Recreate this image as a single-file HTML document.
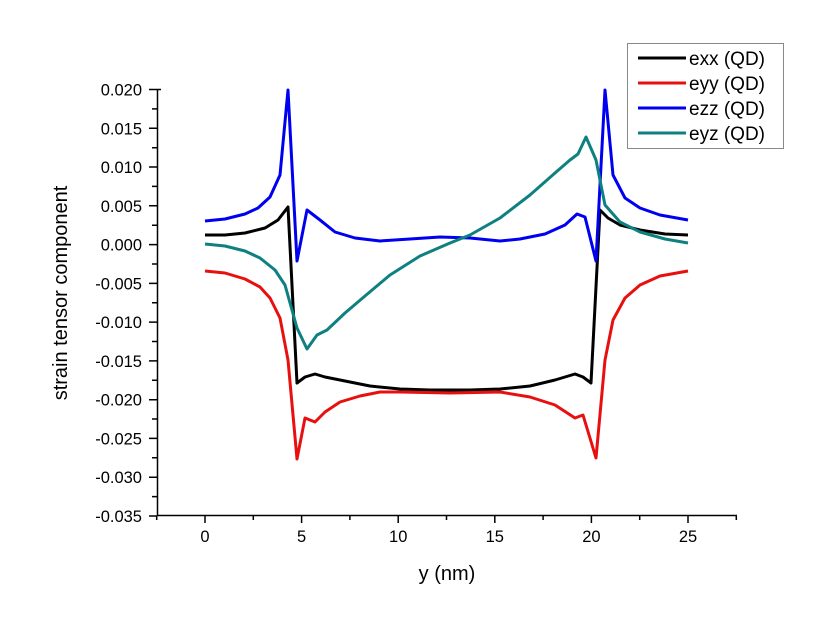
<!DOCTYPE html>
<html><head><style>body{margin:0;background:#fff}svg{display:block}text{font-family:"Liberation Sans",Arial,sans-serif;fill:#000}</style></head>
<body>
<svg width="827" height="626" viewBox="0 0 827 626" xmlns="http://www.w3.org/2000/svg">
<rect width="827" height="626" fill="#fff"/>
<g stroke="#000" stroke-width="1.5" fill="none">
<line x1="157.5" y1="89" x2="157.5" y2="516"/>
<line x1="157" y1="515.5" x2="737" y2="515.5"/>
<path d="M149 89.5H161M149 128.3H157M149 167H157M149 205.8H157M149 244.6H157M149 283.4H157M149 322.1H157M149 360.9H157M149 399.7H157M149 438.4H157M149 477.2H157M149 516H157"/>
<path d="M152 108.9H157M152 147.7H157M152 186.4H157M152 225.2H157M152 264H157M152 302.7H157M152 341.5H157M152 380.3H157M152 419H157M152 457.8H157M152 496.6H157"/>
<path d="M205 516V523M301.6 516V523M398.2 516V523M494.8 516V523M591.4 516V523M688 516V523"/>
<path d="M156.7 516V520M253.3 516V520M349.9 516V520M446.5 516V520M543.1 516V520M639.7 516V520M736.3 516V520"/>
</g>
<g font-size="16.5" text-anchor="end">
<text x="142" y="95.5">0.020</text><text x="142" y="134.3">0.015</text><text x="142" y="173">0.010</text><text x="142" y="211.8">0.005</text><text x="142" y="250.6">0.000</text><text x="142" y="289.4">-0.005</text><text x="142" y="328.1">-0.010</text><text x="142" y="366.9">-0.015</text><text x="142" y="405.7">-0.020</text><text x="142" y="444.4">-0.025</text><text x="142" y="483.2">-0.030</text><text x="142" y="522">-0.035</text>
</g>
<g font-size="16.5" text-anchor="middle">
<text x="205" y="542">0</text><text x="301.6" y="542">5</text><text x="398.2" y="542">10</text><text x="494.8" y="542">15</text><text x="591.4" y="542">20</text><text x="688" y="542">25</text>
</g>
<text x="447" y="580" font-size="20" text-anchor="middle">y (nm)</text>
<text transform="translate(67,293) rotate(-90)" font-size="20" text-anchor="middle">strain tensor component</text>
<g fill="none" stroke-width="3" stroke-linejoin="round">
<polyline stroke="#000" points="205,235 225,235 245,233 265,228 278,220 288,207 297,383 305,377 315,374 325,377 345,381 370,386 400,389 430,390 470,390 500,389 530,386 555,380 575,374 583,377 591,383 600,210 608,218 620,225 640,230 665,234 688,235"/>
<polyline stroke="#e8100f" points="205,271 225,273 245,279 260,287 270,298 280,318 288,360 297,459 305,418 315,422 325,412 340,402 360,396 380,392 400,392 450,393 500,392 530,397 555,405 575,418 583,415 596,458 605,360 613,320 625,298 640,285 660,276 688,271"/>
<polyline stroke="#0000f0" points="205,221 225,219 245,214 258,208 270,197 280,175 288,90 297,261 307,210 320,220 335,232 355,238 380,241 410,239 440,237 470,238 500,241 520,239 545,234 565,225 577,214 585,217 596,261 605,90 613,175 625,198 640,208 660,215 688,220"/>
<polyline stroke="#0f8080" points="205,244 225,246 245,251 260,258 275,270 285,285 297,328 307,349 317,335 327,330 345,313 365,296 390,275 420,256 450,243 470,235 500,218 530,195 555,173 570,160 578,154 586,137 596,160 605,205 620,222 640,232 665,239 688,243"/>
</g>
<rect x="627.5" y="43.5" width="156" height="105" fill="#fff" stroke="#888" stroke-width="1"/>
<g stroke-width="3">
<line x1="638" y1="58" x2="686" y2="58" stroke="#000"/>
<line x1="638" y1="83" x2="686" y2="83" stroke="#e8100f"/>
<line x1="638" y1="108" x2="686" y2="108" stroke="#0000f0"/>
<line x1="638" y1="133" x2="686" y2="133" stroke="#0f8080"/>
</g>
<g font-size="19">
<text x="689" y="65">exx (QD)</text><text x="689" y="90">eyy (QD)</text><text x="689" y="115">ezz (QD)</text><text x="689" y="140">eyz (QD)</text>
</g>
</svg>
</body></html>
